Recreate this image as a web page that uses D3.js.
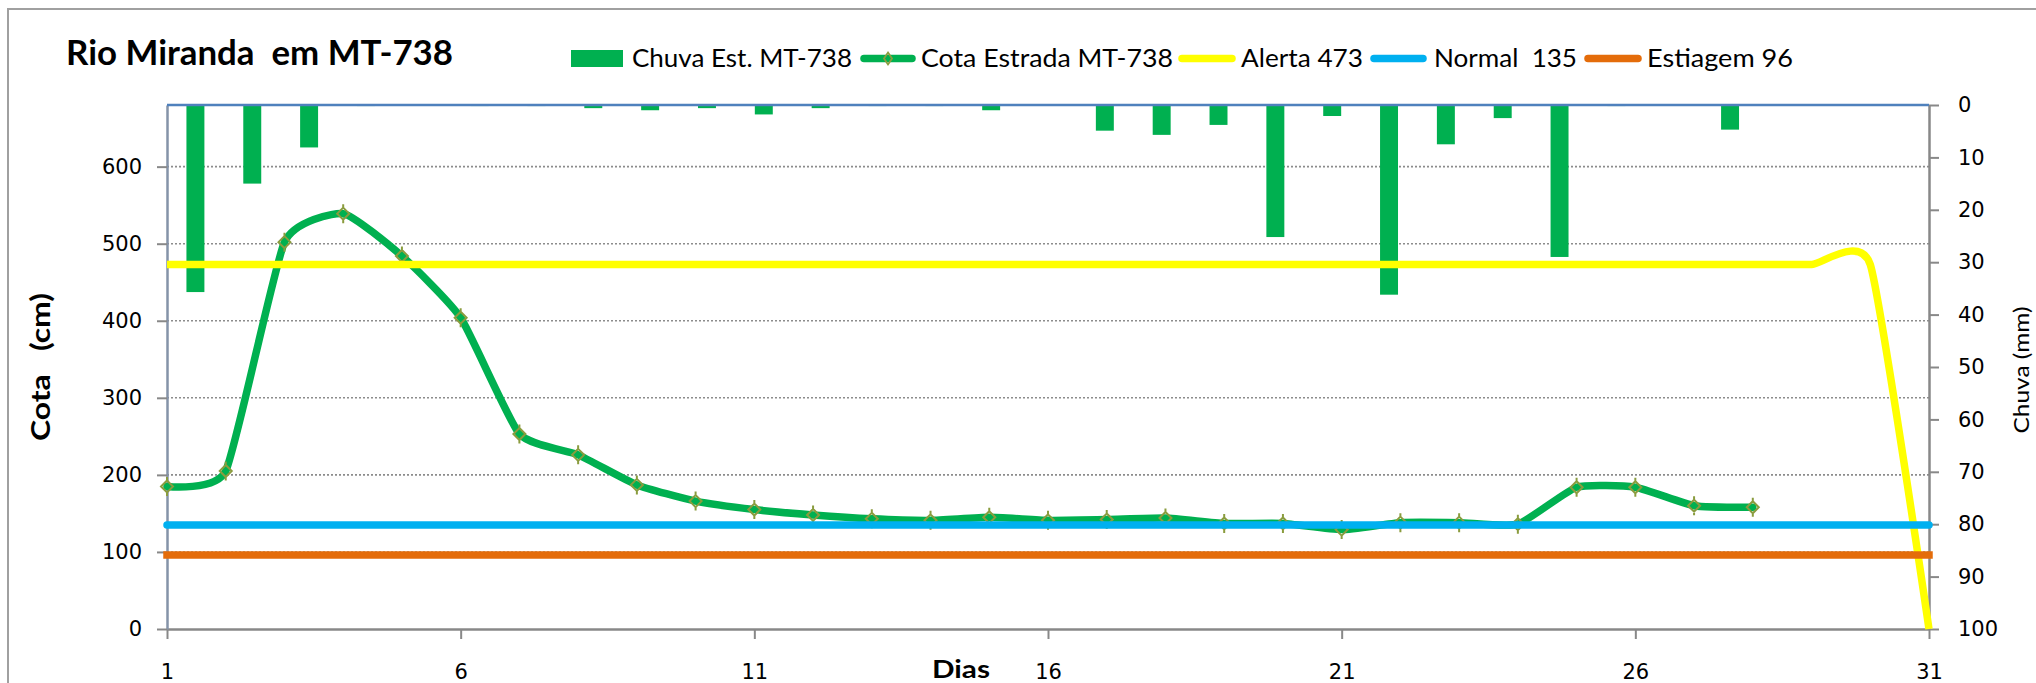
<!DOCTYPE html>
<html>
<head>
<meta charset="utf-8">
<script src="https://cdn.jsdelivr.net/npm/d3@7"></script>
<style>
  body { margin: 0; background: #fff; }
  text { white-space: pre; }
</style>
</head>
<body>
<script>
// days of the month (x categories)
const dias = [1, 2, 3, 4, 5, 6, 7, 8, 9, 10, 11, 12, 13, 14, 15, 16,
              17, 18, 19, 20, 21, 22, 23, 24, 25, 26, 27, 28, 29, 30, 31];

// rain (mm), secondary axis, bars hang from the top
const chuva = [35.7, 15.0, 8.1, 0.2, 0, 0.2, 0.2, 0.6, 1.0, 0.6, 1.8, 0.6, 0.2, 0.2, 1.0, 0,
               4.9, 5.7, 3.8, 25.2, 2.1, 36.2, 7.5, 2.5, 29.0, 0.2, 0, 4.7, 0, 0, 0];

// river level (cm), only up to day 28
const cota = [185, 205, 502, 539, 484, 404, 253, 226, 187, 166, 155, 148, 143, 141,
              145, 141, 142, 144, 137, 137, 129, 138, 138, 136, 184, 184, 160, 158];

// reference levels
const alerta = [473, 473, 473, 473, 473, 473, 473, 473, 473, 473, 473, 473, 473, 473, 473, 473,
                473, 473, 473, 473, 473, 473, 473, 473, 473, 473, 473, 473, 473, 473, 0];
const normal = [135, 135, 135, 135, 135, 135, 135, 135, 135, 135, 135, 135, 135, 135, 135, 135,
                135, 135, 135, 135, 135, 135, 135, 135, 135, 135, 135, 135, 135, 135, 135];
const estiagem = [96, 96, 96, 96, 96, 96, 96, 96, 96, 96, 96, 96, 96, 96, 96, 96,
                  96, 96, 96, 96, 96, 96, 96, 96, 96, 96, 96, 96, 96, 96, 96];

// ticks
const cotaTicks = [0, 100, 200, 300, 400, 500, 600];
const chuvaTicks = [0, 10, 20, 30, 40, 50, 60, 70, 80, 90, 100];
const diaTicks = [1, 6, 11, 16, 21, 26, 31];

const titulo = 'Rio Miranda  em MT-738';
const legendLabels = ['Chuva Est. MT-738', 'Cota Estrada MT-738', 'Alerta 473', 'Normal  135', 'Estiagem 96'];

// svg dimensions
const w = 2036
const h = 683

// plot area
const pLeft = 167, pRight = 1929, pTop = 105, pBottom = 629

const green = '#00b050', yellow = '#ffff00', blue = '#00b0f0', orange = '#e46c0a'
const markerColor = '#8a9c3e'
const font = 'Lato, "Open Sans", sans-serif'
const tickFont = '"DejaVu Sans", Verdana, sans-serif'

const x = d3.scaleLinear().domain([1, 31]).range([pLeft, pRight]);
const xb = d3.scaleBand().domain(dias).range([pLeft, pRight]).paddingInner(0.684).paddingOuter(0.342);
const yL = d3.scaleLinear().domain([0, 680]).range([pBottom, pTop]);
const yR = d3.scaleLinear().domain([0, 100]).range([pTop, pBottom]);

let svg = d3.select('body')
    .append('svg')
    .attr('width', w)
    .attr('height', h);

// outer chart border
svg.append('rect')
    .attr('x', 8).attr('y', 9)
    .attr('width', 2200).attr('height', 1000)
    .attr('fill', 'none')
    .attr('stroke', '#a0a0a0')
    .attr('stroke-width', 2);

// title
svg.append('text')
    .attr('x', 66).attr('y', 65)
    .attr('font-family', font)
    .attr('font-weight', 'bold')
    .attr('font-size', 35)
    .attr('textLength', 387)
    .attr('lengthAdjust', 'spacingAndGlyphs')
    .text(titulo);

// dotted gridlines
svg.append('g')
    .selectAll('line')
    .data(cotaTicks.filter(t => t > 0))
    .enter()
    .append('line')
    .attr('x1', pLeft).attr('x2', pRight)
    .attr('y1', d => yL(d)).attr('y2', d => yL(d))
    .attr('stroke', '#8c8c8c')
    .attr('stroke-width', 1.6)
    .attr('stroke-dasharray', '2 2');

// rain bars
svg.append('g')
    .selectAll('rect')
    .data(chuva)
    .enter()
    .append('rect')
    .attr('x', (d, i) => xb(dias[i]))
    .attr('y', yR(0))
    .attr('width', xb.bandwidth())
    .attr('height', d => yR(d) - yR(0))
    .attr('fill', green);

// axes
function styleAxis(g, color, fs, ff) {
    g.select('.domain').attr('stroke', color).attr('stroke-width', 2.5);
    g.selectAll('.tick line').attr('stroke', '#888').attr('stroke-width', 2);
    g.selectAll('.tick text').attr('fill', '#000').attr('font-size', fs).attr('font-family', ff);
}

svg.append('g')
    .attr('transform', `translate(0,${pBottom})`)
    .call(d3.axisBottom(x).tickValues(diaTicks).tickSize(10).tickSizeOuter(0).tickPadding(25))
    .call(g => styleAxis(g, '#888', 21, tickFont));

svg.append('g')
    .attr('transform', `translate(${pLeft},0)`)
    .call(d3.axisLeft(yL).tickValues(cotaTicks).tickSize(10).tickSizeOuter(0).tickPadding(15))
    .call(g => styleAxis(g, '#8593a8', 21, tickFont));

svg.append('g')
    .attr('transform', `translate(${pRight},0)`)
    .call(d3.axisRight(yR).tickValues(chuvaTicks).tickSize(10).tickSizeOuter(0).tickPadding(19))
    .call(g => styleAxis(g, '#888', 21, tickFont));

// blue category axis line of the bars, at the top
svg.append('line')
    .attr('x1', pLeft).attr('x2', pRight)
    .attr('y1', yR(0)).attr('y2', yR(0))
    .attr('stroke', '#4f81bd')
    .attr('stroke-width', 2.5);

// lines
const curve = d3.curveCardinal.tension(0.5);
const line = d3.line()
    .x((d, i) => x(dias[i]))
    .y(d => yL(d))
    .curve(curve);

function drawLine(data, color, cap) {
    svg.append('path')
        .attr('d', line(data))
        .attr('fill', 'none')
        .attr('stroke', color)
        .attr('stroke-width', 7.5)
        .attr('stroke-linecap', cap)
        .attr('stroke-linejoin', 'round');
}

drawLine(cota, green, 'round');

const diamond = 'M0,-6L6,0L0,6L-6,0Z M0,-9.5L0,-6 M0,6L0,9.5';
svg.append('g')
    .selectAll('path')
    .data(cota)
    .enter()
    .append('path')
    .attr('transform', (d, i) => `translate(${x(dias[i])},${yL(d)})`)
    .attr('d', diamond)
    .attr('fill', 'none')
    .attr('stroke', markerColor)
    .attr('stroke-width', 2);

drawLine(alerta, yellow, 'butt');
drawLine(normal, blue, 'round');
drawLine(estiagem, orange, 'square');

// axis titles
svg.append('text')
    .attr('transform', 'translate(50,367) rotate(-90)')
    .attr('text-anchor', 'middle')
    .attr('font-family', font)
    .attr('font-weight', 'bold')
    .attr('font-size', 26)
    .attr('textLength', 148)
    .attr('lengthAdjust', 'spacingAndGlyphs')
    .text('Cota   (cm)');

svg.append('text')
    .attr('transform', 'translate(2029,370) rotate(-90)')
    .attr('text-anchor', 'middle')
    .attr('font-family', font)
    .attr('font-size', 21)
    .attr('textLength', 127)
    .attr('lengthAdjust', 'spacingAndGlyphs')
    .text('Chuva (mm)');

svg.append('text')
    .attr('x', 932).attr('y', 678)
    .attr('font-family', font)
    .attr('font-weight', 'bold')
    .attr('font-size', 25)
    .attr('textLength', 58)
    .attr('lengthAdjust', 'spacingAndGlyphs')
    .text('Dias');

// legend
const legendLayout = [
    {sx: 571, sw: 52, tx: 632, tl: 220},
    {sx: 860, sw: 56, tx: 921, tl: 252},
    {sx: 1178, sw: 58, tx: 1241, tl: 122},
    {sx: 1370, sw: 57, tx: 1434, tl: 143},
    {sx: 1584, sw: 58, tx: 1647, tl: 146}
];
const legendColors = [green, green, yellow, blue, orange];
const ly = 58.5;

let leg = svg.append('g');
legendLayout.forEach((p, i) => {
    if (i == 0) {
        leg.append('rect')
            .attr('x', p.sx).attr('y', 50)
            .attr('width', p.sw).attr('height', 17)
            .attr('fill', legendColors[i]);
    } else {
        leg.append('line')
            .attr('x1', p.sx + 4).attr('x2', p.sx + p.sw - 4)
            .attr('y1', ly).attr('y2', ly)
            .attr('stroke', legendColors[i])
            .attr('stroke-width', 7.5)
            .attr('stroke-linecap', 'round');
    }
    if (i == 1) {
        leg.append('path')
            .attr('transform', `translate(${p.sx + p.sw / 2},${ly})`)
            .attr('d', 'M0,-6L4,0L0,6L-4,0Z')
            .attr('fill', 'none')
            .attr('stroke', markerColor)
            .attr('stroke-width', 1.8);
    }
    leg.append('text')
        .attr('x', p.tx).attr('y', 67)
        .attr('font-family', font)
        .attr('font-size', 25)
        .attr('textLength', p.tl)
        .attr('lengthAdjust', 'spacingAndGlyphs')
        .text(legendLabels[i]);
});
</script>
</body>
</html>
